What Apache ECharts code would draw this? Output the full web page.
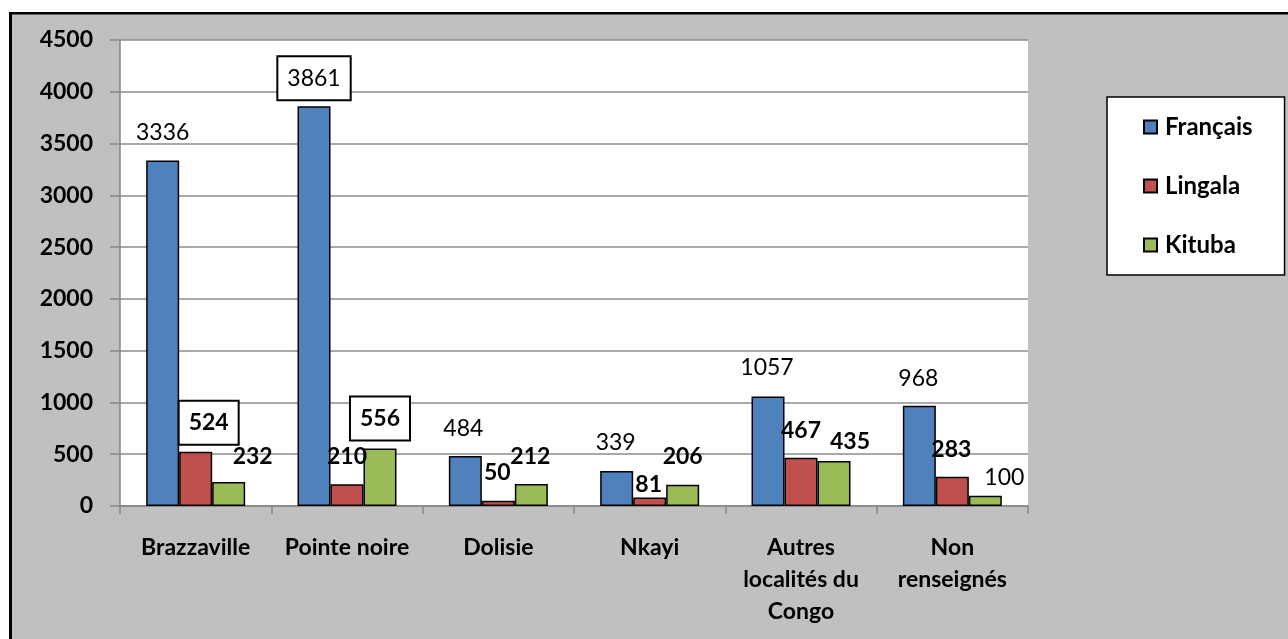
<!DOCTYPE html>
<html>
<head>
<meta charset="utf-8">
<script src="https://cdn.jsdelivr.net/npm/echarts@6/dist/echarts.min.js"></script>
<style>
  html, body { margin: 0; padding: 0; background: #fff; }
  #chart { width: 1288px; height: 639px; }
</style>
</head>
<body>
<div id="chart"></div>
<script>
// categories and values
const categories = ['Brazzaville', 'Pointe noire', 'Dolisie', 'Nkayi', 'Autres\nlocalités du\nCongo', 'Non\nrenseignés'];
const francais = [3336, 3861, 484, 339, 1057, 968];
const lingala = [524, 210, 50, 81, 467, 283];
const kituba = [232, 556, 212, 206, 435, 100];
const yTicks = { min: 0, max: 4500, step: 500 };

// label placement, offset from the top centre of each bar (hand placed in the original)
const labelShift = {
  'Français': [[0, -28], [0, -28], [-2, -27], [-1, -28], [-1, -28.5], [-1, -27]],
  'Lingala': [[13, -29], [0, -28], [-1, -28], [-1, -13], [0, -27], [-1, -27]],
  'Kituba': [[24, -25.5], [0, -30], [-1, -27.5], [0, -28], [16, -19], [19, -18.5]]
};
const boxedLabel = { 'Français': [1], 'Lingala': [0], 'Kituba': [1] };
const boldLabel = { 'Français': [], 'Lingala': [0, 1, 2, 3, 4, 5], 'Kituba': [0, 1, 2, 3, 4] };

const colors = { 'Français': '#4F81BD', 'Lingala': '#C0504D', 'Kituba': '#9BBB59' };
const FONT = 'Lato';

function buildSeries(name, values) {
  return {
    name: name,
    type: 'bar',
    barGap: '0%',
    barCategoryGap: '34.6%',
    itemStyle: { color: colors[name], borderColor: '#000', borderWidth: 1.5 },
    label: {
      show: true,
      position: ['50%', 0],
      align: 'center',
      verticalAlign: 'middle',
      color: '#000',
      fontFamily: FONT,
      fontSize: 23,
      lineHeight: 24
    },
    data: values.map((v, i) => {
      const lab = {
        offset: labelShift[name][i],
        fontWeight: boldLabel[name].includes(i) ? 'bold' : 'normal'
      };
      if (boxedLabel[name].includes(i)) {
        lab.backgroundColor = '#fff';
        lab.borderColor = '#000';
        lab.borderWidth = 2;
        lab.padding = [9, 9];
      }
      return { value: v, label: lab };
    })
  };
}

const chart = echarts.init(document.getElementById('chart'));
chart.setOption({
  backgroundColor: '#c0c0c0',
  animation: false,
  graphic: [
    { type: 'rect', shape: { x: 0, y: 0, width: 1288, height: 12 }, style: { fill: '#fff' } },
    { type: 'rect', shape: { x: 0, y: 0, width: 9, height: 639 }, style: { fill: '#fff' } },
    { type: 'rect', shape: { x: 9, y: 12, width: 3, height: 627 }, style: { fill: '#000' } },
    { type: 'rect', shape: { x: 9, y: 12, width: 1279, height: 2.5 }, style: { fill: '#000' } }
  ],
  grid: {
    left: 120,
    top: 40,
    width: 908,
    height: 466,
    show: true,
    backgroundColor: '#fff',
    borderWidth: 0
  },
  legend: {
    orient: 'vertical',
    left: 1107,
    top: 97,
    padding: [18, 32, 18, 36],
    itemGap: 35,
    itemWidth: 13,
    itemHeight: 13,
    icon: 'rect',
    backgroundColor: '#fff',
    borderColor: '#000',
    borderWidth: 1.5,
    textStyle: { fontFamily: FONT, fontSize: 24, fontWeight: 'bold', color: '#000', lineHeight: 23, padding: [0, 0, 0, 3] },
    data: ['Français', 'Lingala', 'Kituba']
  },
  xAxis: {
    type: 'category',
    data: categories,
    axisLine: { lineStyle: { color: '#868686', width: 1.5 } },
    axisTick: { show: true, length: 8, lineStyle: { color: '#868686', width: 1.5 } },
    axisLabel: {
      margin: 26,
      color: '#000',
      fontFamily: FONT,
      fontSize: 23,
      fontWeight: 'bold',
      lineHeight: 32,
      interval: 0
    }
  },
  yAxis: {
    type: 'value',
    min: yTicks.min,
    max: yTicks.max,
    interval: yTicks.step,
    axisLine: { show: true, lineStyle: { color: '#868686', width: 1.5 } },
    axisTick: { show: true, length: 10, lineStyle: { color: '#868686', width: 1.5 } },
    splitLine: { lineStyle: { color: '#8c8c8c', width: 1.5 } },
    axisLabel: {
      margin: 27,
      color: '#000',
      fontFamily: FONT,
      fontSize: 23,
      fontWeight: 'bold',
      formatter: v => String(v)
    }
  },
  series: [
    buildSeries('Français', francais),
    buildSeries('Lingala', lingala),
    buildSeries('Kituba', kituba)
  ]
});
</script>
</body>
</html>
